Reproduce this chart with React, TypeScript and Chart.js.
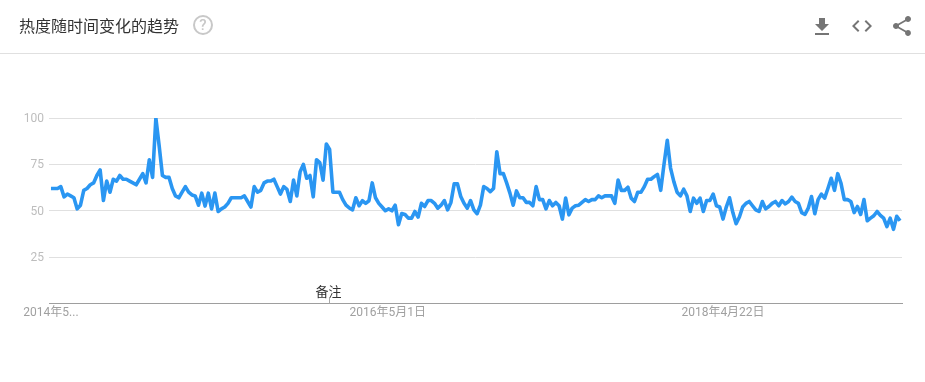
import React, { useEffect, useRef } from "react";
import { Chart, registerables } from "chart.js";

Chart.register(...registerables);

const title = "热度随时间变化的趋势";
const noteLabel = "备注";
const noteWeek = 85;
const tickWeeks = [0, 102.7, 205];
const tickLabels = ["2014年5...", "2016年5月1日", "2018年4月22日"];
const yTicks = [25, 50, 75, 100];

const seriesA = [62,62,62,63,57.5,59,58,57,51,53,61,62,64,65,69,72,55.5,66,60,67,66,69,67,67,66,65,64,67,70,65,77.5,68,100,85,69,68,68,62,58,57,60,63,60,58.5,58,53,59.5,52.5,59.5,51];
const seriesB = [59.5,49.6,51,52,54,57,57,57,57,58,55,52,63,60,61,65,66,66,67,63,59,63,61.5,55,66.5,58,71,75,67.5,69,57.5,77.5,76,66.5,86,83,60,60,60,56,53,51.5,50.5,57,52.7,55.4,54,55.4,65,57];
const seriesC = [54,52,50,51,50,53,42.5,48.5,48,46,46,49.6,46.6,54,52.3,55.5,55.5,54,51.4,53,55.5,50.5,54.5,64.5,64.5,57.7,54,51.4,55.5,50.5,48.4,53,63,62,60.3,62,81.8,70,70,65,59.5,53,60.7,57,57,54.5,54.5,52.7,63,56];
const seriesD = [56,51,55.5,52.7,54.5,52.7,45.5,56.8,47.8,51.4,52.7,53,54.5,56,55,56,56,58,57,58,58,58,54,66.6,61,61,62.7,56.8,55,60,60,63,67,67,68.4,69.6,61,75,88,73,65.7,60,58,61.6,58,49.6,56.8,54,56.8,49.6];
const seriesE = [55.5,55.5,59,52.7,52,45.5,52,57,49,43,46.6,52,54,55,52.7,50.5,49.6,55,51,52.3,54,55,52.7,55.5,53.7,55,57.3,55,54,49,48,51.4,57.7,48.4,56,59,56.8,62,67.5,61,70,64.8,56,56,55,49,52.3,48,56,44.6];
const seriesF = [46,47.3,49.6,47.5,46,41.5,46,40,47,44.6];
const values = [...seriesA, ...seriesB, ...seriesC, ...seriesD, ...seriesE, ...seriesF];

const LABEL_FONT = "Roboto, 'Noto Sans CJK SC', sans-serif";

const notePlugin = {
  id: "notePlugin",
  afterDraw(chart: any) {
    const { ctx, scales, chartArea } = chart;
    const x = scales.x.getPixelForValue(noteWeek);
    ctx.save();
    ctx.strokeStyle = "#a8a8a8";
    ctx.lineWidth = 1;
    ctx.beginPath();
    ctx.moveTo(Math.round(x) - 0.5, chartArea.bottom - 6);
    ctx.lineTo(Math.round(x) - 0.5, chartArea.bottom);
    ctx.stroke();
    ctx.fillStyle = "#333333";
    ctx.font = `13px ${LABEL_FONT}`;
    ctx.textAlign = "center";
    ctx.textBaseline = "alphabetic";
    ctx.fillText(noteLabel, x - 1, chartArea.bottom - 8);
    ctx.restore();
  },
};

export default function App() {
  const ref = useRef<HTMLCanvasElement>(null);

  useEffect(() => {
    document.body.style.margin = "0";
    document.body.style.background = "#fff";
    const chart = new Chart(ref.current as HTMLCanvasElement, {
      type: "line",
      data: {
        datasets: [
          {
            data: values.map((v, i) => ({ x: i, y: v })),
            borderColor: "#2a96f2",
            borderWidth: 3.6,
            pointRadius: 0,
            tension: 0,
            borderJoinStyle: "round",
            fill: false,
          },
        ],
      },
      options: {
        animation: false,
        responsive: false,
        devicePixelRatio: 1,
        layout: { padding: { left: 0, right: 23, top: 118, bottom: 0 } },
        plugins: { legend: { display: false }, tooltip: { enabled: false }, title: { display: false } },
        scales: {
          x: {
            type: "linear",
            min: -0.6,
            max: values.length - 0.4,
            afterFit(scale: any) {
              scale.height = 78.5;
            },
            afterBuildTicks(scale: any) {
              scale.ticks = tickWeeks.map((value) => ({ value }));
            },
            grid: { display: false, drawTicks: false },
            border: { display: true, color: "#9e9e9e", width: 1 },
            ticks: {
              autoSkip: false,
              maxRotation: 0,
              minRotation: 0,
              padding: 2,
              color: "#a0a0a0",
              font: { size: 12, family: LABEL_FONT },
              callback: (value: any) => tickLabels[tickWeeks.indexOf(Number(value))] ?? "",
            },
          },
          y: {
            min: 0,
            max: 100,
            afterFit(scale: any) {
              scale.width = 49;
            },
            afterBuildTicks(scale: any) {
              scale.ticks = [0, ...yTicks].map((value) => ({ value }));
            },
            grid: { color: "#e0e0e0", lineWidth: 1, drawTicks: false },
            border: { display: false },
            ticks: {
              padding: 5,
              labelOffset: 1,
              color: "#bdbdbd",
              font: { size: 12, family: LABEL_FONT },
              callback: (value: any) => (value === 0 ? "" : String(value)),
            },
          },
        },
      },
      plugins: [notePlugin],
    } as any);
    return () => chart.destroy();
  }, []);

  return (
    <div style={{ position: "relative", width: 925, height: 382, overflow: "hidden", background: "#fff" }}>
      <canvas ref={ref} width={925} height={382} style={{ position: "absolute", left: 0, top: 0, display: "block" }} />
      <div
        style={{
          position: "absolute",
          left: 19,
          top: 14,
          fontFamily: "'Noto Sans CJK SC', sans-serif",
          fontSize: 16,
          lineHeight: "22px",
          color: "#333333",
          whiteSpace: "nowrap",
        }}
      >
        {title}
      </div>
      <div
        style={{
          position: "absolute",
          left: 193,
          top: 15,
          width: 16,
          height: 16,
          border: "2px solid #c8c8c8",
          borderRadius: "50%",
          color: "#c8c8c8",
          fontFamily: "Roboto, sans-serif",
          fontSize: 15,
          fontWeight: 500,
          lineHeight: "16px",
          textAlign: "center",
        }}
      >
        ?
      </div>
      <div style={{ position: "absolute", left: 0, top: 53, width: 925, height: 1, background: "#e0e0e0" }} />
      <svg width={925} height={53} style={{ position: "absolute", left: 0, top: 0 }} fill="#757575">
        <path transform="translate(810 15)" d="M19 9h-4V3H9v6H5l7 7 7-7zM5 18v2h14v-2H5z" />
        <path transform="translate(850 14)" d="M9.4 16.6L4.8 12l4.6-4.6L8 6l-6 6 6 6 1.4-1.4zm5.2 0l4.6-4.6-4.6-4.6L16 6l6 6-6 6-1.4-1.4z" />
        <path transform="translate(890 14)" d="M18 16.08c-.76 0-1.44.3-1.96.77L8.91 12.7c.05-.23.09-.46.09-.7s-.04-.47-.09-.7l7.05-4.11c.54.5 1.25.81 2.04.81 1.66 0 3-1.34 3-3s-1.34-3-3-3-3 1.34-3 3c0 .24.04.47.09.7L8.04 9.81C7.5 9.31 6.79 9 6 9c-1.66 0-3 1.34-3 3s1.34 3 3 3c.79 0 1.5-.31 2.04-.81l7.12 4.16c-.05.21-.08.43-.08.65 0 1.61 1.31 2.92 2.92 2.92 1.61 0 2.92-1.31 2.92-2.92s-1.31-2.92-2.92-2.92z" />
      </svg>
    </div>
  );
}
